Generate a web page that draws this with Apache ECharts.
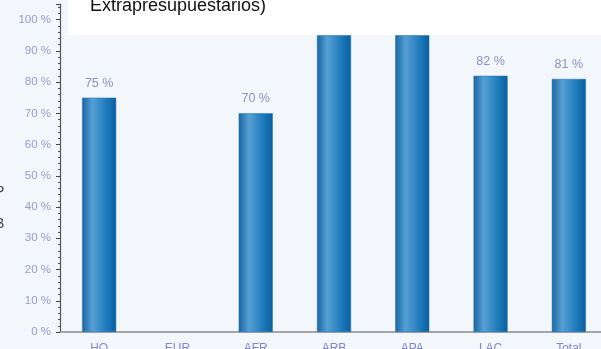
<!DOCTYPE html>
<html>
<head>
<meta charset="utf-8">
<script src="https://cdn.jsdelivr.net/npm/echarts@6/dist/echarts.min.js"></script>
<style>
  html, body { margin: 0; padding: 0; background: #f3f6fb; overflow: hidden; }
  #main { width: 601px; height: 349px; }
</style>
</head>
<body>
<div id="main"></div>
<script>
var chartDom = document.getElementById('main');
var myChart = echarts.init(chartDom);
var option;

// regions
const categories = ['HO', 'EUR', 'AFR', 'ARB', 'APA', 'LAC', 'Total'];
// percent values (ARB and APA run up under the title box)
const values = [75, null, 70, 95, 95, 82, 81];
const titleText = 'Extrapresupuestarios)';

const barColor = new echarts.graphic.LinearGradient(0, 0, 1, 0, [
    { offset: 0, color: '#1a64a2' },
    { offset: 0.3, color: '#55a0d4' },
    { offset: 0.75, color: '#1a78b8' },
    { offset: 1, color: '#0a5e9e' }
]);

option = {
    backgroundColor: '#f3f6fb',
    animation: false,
    grid: {
        left: 60,
        width: 548,
        top: 4,
        bottom: 17,
        outerBoundsMode: 'none'
    },
    xAxis: [
        {
            type: 'category',
            data: categories,
            axisLine: { lineStyle: { color: '#8c8c8c', width: 1.5 } },
            axisTick: { length: 4, lineStyle: { color: '#444' } },
            axisLabel: {
                color: '#7f88cc',
                fontSize: 12,
                fontFamily: 'Liberation Sans',
                margin: 11
            }
        },
        {
            type: 'category',
            data: categories,
            position: 'bottom',
            axisLine: { show: false },
            axisTick: { alignWithLabel: true, length: 4, lineStyle: { color: '#444' } },
            axisLabel: { show: false }
        }
    ],
    yAxis: {
        type: 'value',
        min: 0,
        max: 105,
        interval: 10,
        axisLine: { show: true, lineStyle: { color: '#555', width: 1.2 } },
        axisTick: { show: true, length: 4, lineStyle: { color: '#444' } },
        minorTick: { show: true, splitNumber: 5, length: 2, lineStyle: { color: '#555' } },
        splitLine: { show: false },
        axisLabel: {
            color: '#979bd0',
            fontSize: 11.5,
            fontFamily: 'Liberation Sans',
            margin: 9,
            showMaxLabel: false,
            formatter: '{value} %'
        }
    },
    series: [
        {
            type: 'bar',
            data: values,
            barWidth: 34,
            itemStyle: {
                color: barColor,
                borderColor: '#1d6ea8',
                borderWidth: 0.5
            },
            label: {
                show: true,
                position: 'top',
                distance: 8,
                color: '#8c90c6',
                fontSize: 12.5,
                fontFamily: 'Liberation Sans',
                formatter: '{c} %'
            }
        }
    ],
    graphic: [
        {
            type: 'rect',
            z: 100,
            shape: { x: 68, y: 0, width: 540, height: 35 },
            style: { fill: '#ffffff' }
        },
        {
            type: 'text',
            z: 101,
            left: 90,
            top: -3,
            style: {
                text: titleText,
                fill: '#111',
                font: '18px "Liberation Sans"'
            }
        },
        {
            type: 'text',
            z: 101,
            left: -5,
            top: 185,
            style: { text: 'P', fill: '#444', font: '14px "Liberation Sans"' }
        },
        {
            type: 'text',
            z: 101,
            left: -5,
            top: 217,
            style: { text: 'B', fill: '#444', font: '14px "Liberation Sans"' }
        }
    ]
};

option && myChart.setOption(option);
</script>
</body>
</html>
